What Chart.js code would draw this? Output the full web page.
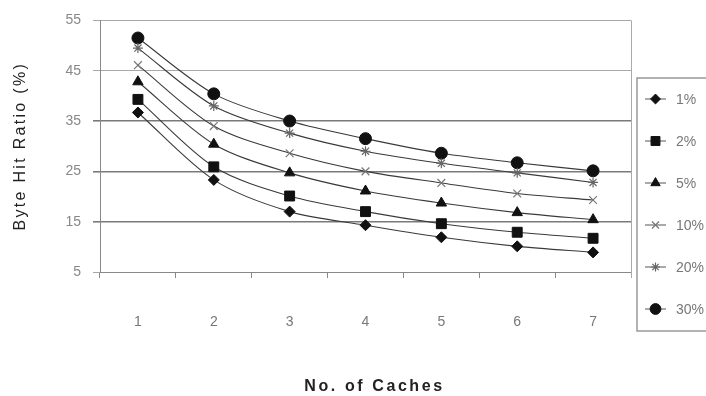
<!DOCTYPE html>
<html>
<head>
<meta charset="utf-8">
<script src="https://cdn.jsdelivr.net/npm/chart.js@4/dist/chart.umd.min.js"></script>
<style>
  html, body { margin: 0; padding: 0; background: #fff; overflow: hidden; }
  #wrap { width: 706px; height: 396px; position: relative; }
</style>
</head>
<body>
<div id="wrap"><canvas id="c" width="706" height="396"></canvas></div>
<script>
// Number of caches on the x axis
const caches = ['1', '2', '3', '4', '5', '6', '7'];

// Byte hit ratio (%) for each cache size setting
const pct1  = [36.7, 23.3, 17.0, 14.3, 11.9, 10.1, 8.9];
const pct2  = [39.3, 25.9, 20.1, 17.0, 14.6, 12.9, 11.7];
const pct5  = [42.8, 30.4, 24.7, 21.1, 18.7, 16.8, 15.4];
const pct10 = [46.1, 34.0, 28.6, 25.0, 22.7, 20.6, 19.3];
const pct20 = [49.5, 38.0, 32.6, 29.0, 26.6, 24.7, 22.8];
const pct30 = [51.5, 40.4, 35.0, 31.5, 28.6, 26.7, 25.1];

const seriesNames = ['1%', '2%', '5%', '10%', '20%', '30%'];
const yTicks = [5, 15, 25, 35, 45, 55];
const xTitle = 'No. of Caches';
const yTitle = 'Byte Hit Ratio (%)';

const FONT = '"Liberation Sans", Arial, sans-serif';

function series(label, data, style, radius, color, bw) {
  return {
    label, data,
    borderColor: '#3a3a3a',
    borderWidth: 1.1,
    tension: 0.3,
    pointStyle: style,
    pointRadius: radius,
    pointBackgroundColor: color,
    pointBorderColor: color,
    pointBorderWidth: bw,
  };
}

const datasets = [
  series(seriesNames[0], pct1, 'rectRot', 5.5, '#111', 1),
  series(seriesNames[1], pct2, 'rect', 7, '#111', 1),
  series(seriesNames[2], pct5, 'triangle', 6, '#111', 1),
  series(seriesNames[3], pct10, 'crossRot', 5.5, '#777', 1.2),
  series(seriesNames[4], pct20, 'star', 5, '#666', 1.2),
  series(seriesNames[5], pct30, 'circle', 6, '#111', 1),
];

// Boxed legend on the right-hand side, drawn from the dataset styles
const boxLegend = {
  id: 'boxLegend',
  afterDraw(chart) {
    const ctx = chart.ctx;
    const left = 637, top = 78, bottom = 331;
    ctx.save();
    ctx.strokeStyle = '#999';
    ctx.lineWidth = 1.5;
    ctx.strokeRect(left, top, 120, bottom - top);
    ctx.font = '14px ' + FONT;
    ctx.textBaseline = 'middle';
    chart.data.datasets.forEach((ds, i) => {
      const y = 99 + i * 42;
      ctx.strokeStyle = '#555';
      ctx.lineWidth = 1;
      ctx.beginPath();
      ctx.moveTo(645, y);
      ctx.lineTo(666, y);
      ctx.stroke();
      ctx.fillStyle = ds.pointBackgroundColor;
      ctx.strokeStyle = ds.pointBorderColor;
      ctx.lineWidth = ds.pointBorderWidth;
      Chart.helpers.drawPoint(ctx, { pointStyle: ds.pointStyle, radius: ds.pointRadius * 0.9, borderWidth: ds.pointBorderWidth }, 655.5, y);
      ctx.fillStyle = '#777';
      ctx.fillText(ds.label, 676, y + 1);
    });
    ctx.restore();
  }
};

// Plot-area right border and spaced-out axis titles
const frameAndTitles = {
  id: 'frameAndTitles',
  beforeDatasetsDraw(chart) {
    const { ctx, chartArea } = chart;
    ctx.save();
    ctx.strokeStyle = '#aaa';
    ctx.lineWidth = 1;
    ctx.beginPath();
    ctx.moveTo(chartArea.right + 0.5, chartArea.top);
    ctx.lineTo(chartArea.right + 0.5, chartArea.bottom + 6);
    ctx.stroke();
    ctx.restore();
  },
  afterDraw(chart) {
    const { ctx, chartArea } = chart;
    ctx.save();
    ctx.fillStyle = '#222';
    ctx.textAlign = 'center';
    ctx.textBaseline = 'middle';
    ctx.letterSpacing = '2.6px';
    ctx.font = 'bold 16px ' + FONT;
    ctx.fillText(xTitle, (chartArea.left + chartArea.right) / 2 + 9, 387);
    ctx.letterSpacing = '2.3px';
    ctx.font = '16px ' + FONT;
    ctx.translate(21, (chartArea.top + chartArea.bottom) / 2);
    ctx.rotate(-Math.PI / 2);
    ctx.fillText(yTitle, 0, 0);
    ctx.restore();
  }
};

new Chart(document.getElementById('c'), {
  type: 'line',
  data: { labels: caches, datasets },
  plugins: [boxLegend, frameAndTitles],
  options: {
    responsive: false,
    animation: false,
    layout: { padding: { top: 10, right: 75, left: 0, bottom: 0 } },
    plugins: { legend: { display: false }, tooltip: { enabled: false } },
    scales: {
      x: {
        type: 'category',
        offset: true,
        grid: {
          display: true,
          offset: true,
          drawOnChartArea: false,
          drawTicks: true,
          tickLength: 6,
          color: '#888',
        },
        border: { display: true, color: '#888', width: 1 },
        ticks: { color: '#777', font: { family: FONT, size: 14 }, padding: 36 },
        afterFit(scale) { scale.height = 124; },
      },
      y: {
        min: 5,
        max: 55,
        afterBuildTicks(scale) { scale.ticks = yTicks.map(v => ({ value: v })); },
        grid: {
          drawTicks: true,
          tickLength: 7,
          color: ctx => ([15, 25, 35].includes(ctx.tick && ctx.tick.value) ? '#7a7a7a' : '#a8a8a8'),
          lineWidth: ctx => ([15, 25, 35].includes(ctx.tick && ctx.tick.value) ? 1.6 : 1),
        },
        border: { display: true, color: '#888', width: 1 },
        ticks: { color: '#888', font: { family: FONT, size: 14 }, padding: 12 },
        afterFit(scale) { scale.width = 100; },
      },
    },
  },
});
</script>
</body>
</html>
